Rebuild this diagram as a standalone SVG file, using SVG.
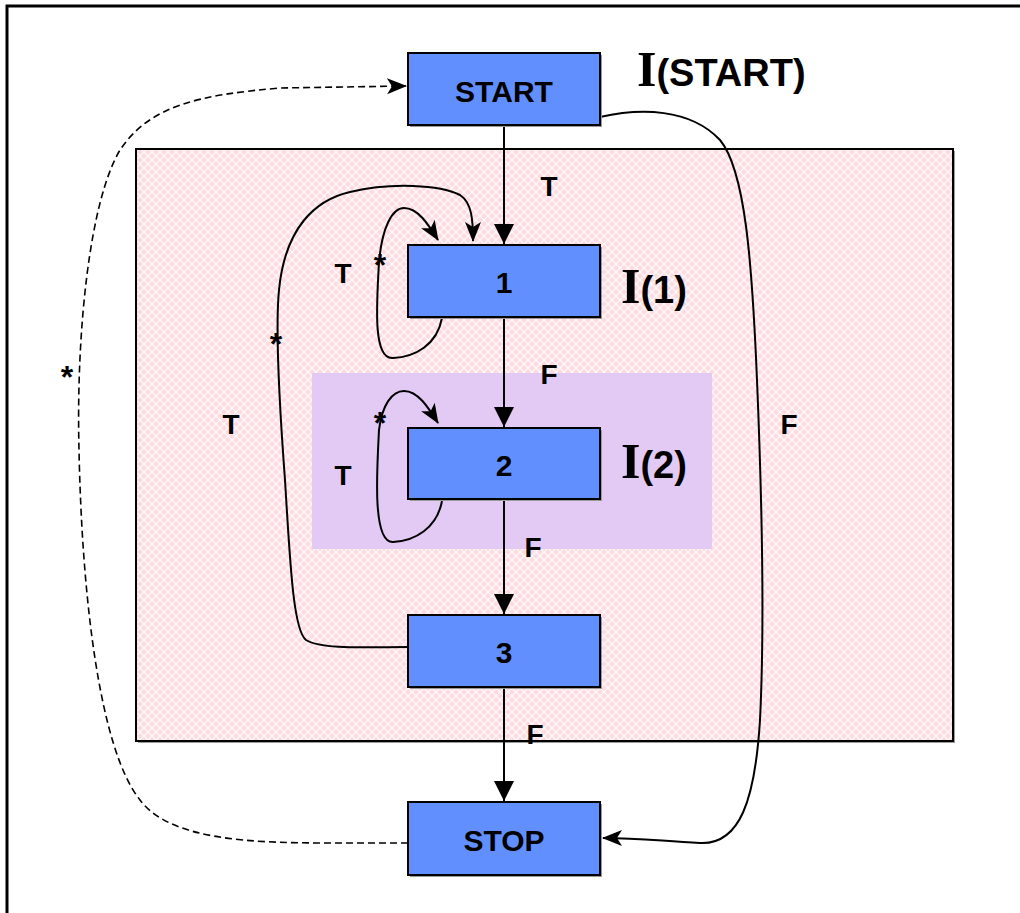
<svg xmlns="http://www.w3.org/2000/svg" width="1020" height="913" viewBox="0 0 1020 913">
<style>
.node{fill:#6190fe;stroke:#000;stroke-width:2}
.shadow{fill:#9a9a9a}
.nt{font-family:"Liberation Sans",Arial,sans-serif;font-weight:bold;font-size:30px;fill:#000;text-anchor:middle}
.lb{font-family:"Liberation Sans",Arial,sans-serif;font-weight:bold;font-size:28px;fill:#000;text-anchor:middle}
.st{font-family:"Liberation Sans",Arial,sans-serif;font-weight:bold;font-size:32px;fill:#000;text-anchor:middle}
.ii{font-family:"Liberation Serif","Times New Roman",serif;font-weight:bold;font-size:50px;fill:#000}
.ia{font-family:"Liberation Sans",Arial,sans-serif;font-weight:bold;font-size:38px}
.e{fill:none;stroke:#000;stroke-width:2}
.d{fill:none;stroke:#000;stroke-width:1.6;stroke-dasharray:7,4}
</style>
<defs>
<pattern id="hatch" width="8" height="8" patternUnits="userSpaceOnUse">
<rect width="8" height="8" fill="#fcdce1"/>
<path d="M0,0 L8,8 M8,0 L0,8" stroke="#ffffff" stroke-width="1.2" opacity="0.85"/>
</pattern>
<marker id="tri" markerWidth="20" markerHeight="22" refX="20" refY="10" orient="auto" markerUnits="userSpaceOnUse" viewBox="0 0 20 20">
<path d="M0,0 L20,10 L0,20 z" fill="#000"/>
</marker>
<marker id="stl" markerWidth="20" markerHeight="18" refX="19" refY="8" orient="auto" markerUnits="userSpaceOnUse" viewBox="0 0 20 16">
<path d="M0,0 L20,8 L0,16 L5,8 z" fill="#000"/>
</marker>
</defs>
<rect width="1020" height="913" fill="#fff"/>
<path d="M7,913 L7,6 L1020,6" fill="none" stroke="#000" stroke-width="3"/>
<g id="region-outer">
<rect x="138" y="151" width="817" height="592" fill="#9a9a9a"/>
<rect x="136" y="149" width="817" height="592" fill="url(#hatch)" stroke="#000" stroke-width="2"/>
</g>
<g id="region-inner">
<rect x="312" y="373" width="400" height="176" fill="#e2caf4"/>
</g>
<g id="connectors">
<line class="e" x1="504" y1="125" x2="504" y2="244" marker-end="url(#tri)"/>
<line class="e" x1="504" y1="317" x2="504" y2="427" marker-end="url(#tri)"/>
<line class="e" x1="504" y1="499" x2="504" y2="614" marker-end="url(#tri)"/>
<line class="e" x1="504" y1="687" x2="504" y2="801" marker-end="url(#tri)"/>
<path class="e" d="M442,318 C437,345 415,357 393,358 C372,360 377,300 379,262 C382,228 392,208 404,208 C418,208 428,224 438,240" marker-end="url(#stl)"/>
<path class="e" d="M442,501 C437,528 415,541 393,542 C372,543 377,470 379,430 C382,405 392,391 404,391 C418,391 428,407 438,423" marker-end="url(#stl)"/>
<path class="e" d="M408,647 C370,647 322,650 306,640 C293,630 290,560 285,480 C279,400 275,330 279,290 C285,228 315,200 350,192 C392,182 440,185 460,195 C472,203 473,220 473,241" marker-end="url(#stl)"/>
<path class="e" d="M600,117 C640,108 690,108 720,140 C745,170 752,260 757,380 C762,500 765,620 760,720 C755,800 740,845 700,843 C660,841 640,838 603,838" marker-end="url(#stl)"/>
<path class="d" d="M408,843 L330,843 C250,843 170,840 140,800 C100,750 82,600 79,450 C76,330 90,200 120,150 C150,105 200,95 280,88 L406,86" marker-end="url(#stl)"/>
</g>
<g id="node-start">
<rect class="shadow" x="410" y="55" width="192" height="72"/>
<rect class="node" x="408" y="53" width="192" height="72"/>
<text class="nt" x="504" y="102">START</text>
</g>
<g id="node-1">
<rect class="shadow" x="410" y="247" width="192" height="72"/>
<rect class="node" x="408" y="245" width="192" height="72"/>
<text class="nt" x="504" y="293">1</text>
</g>
<g id="node-2">
<rect class="shadow" x="410" y="430" width="192" height="71"/>
<rect class="node" x="408" y="428" width="192" height="71"/>
<text class="nt" x="504" y="476">2</text>
</g>
<g id="node-3">
<rect class="shadow" x="410" y="617" width="192" height="72"/>
<rect class="node" x="408" y="615" width="192" height="72"/>
<text class="nt" x="504" y="663">3</text>
</g>
<g id="node-stop">
<rect class="shadow" x="410" y="804" width="192" height="73"/>
<rect class="node" x="408" y="802" width="192" height="73"/>
<text class="nt" x="504" y="851">STOP</text>
</g>
<g id="labels">
<text class="ii" x="637" y="86">I<tspan class="ia">(START)</tspan></text>
<text class="ii" x="621" y="303">I<tspan class="ia">(1)</tspan></text>
<text class="ii" x="621" y="478">I<tspan class="ia">(2)</tspan></text>
<text class="lb" x="549" y="196">T</text>
<text class="lb" x="549" y="384">F</text>
<text class="lb" x="533" y="557">F</text>
<text class="lb" x="535" y="744">F</text>
<text class="lb" x="789" y="434">F</text>
<text class="lb" x="343" y="283">T</text>
<text class="lb" x="231" y="434">T</text>
<text class="lb" x="343" y="485">T</text>
<text class="st" x="380" y="276">*</text>
<text class="st" x="276" y="355">*</text>
<text class="st" x="380" y="434">*</text>
<text class="st" x="67" y="388">*</text>
</g>
</svg>
